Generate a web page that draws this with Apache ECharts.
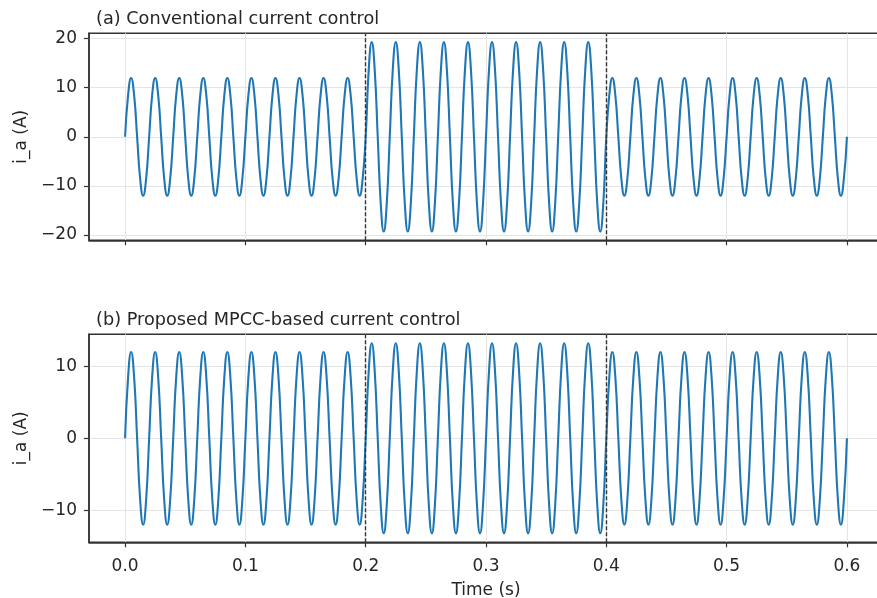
<!DOCTYPE html>
<html><head><meta charset="utf-8">
<script src="https://cdn.jsdelivr.net/npm/echarts@6/dist/echarts.min.js"></script>
<style>html,body{margin:0;padding:0;background:#fff}#c{width:877px;height:598px}</style>
</head><body><div id="c"></div>
<script>
// time samples (s): eight points per 20 ms cycle of the 50 Hz phase current
const time = [
  0, 0.0025, 0.005, 0.0075, 0.01, 0.0125, 0.015, 0.0175,
  0.02, 0.0225, 0.025, 0.0275, 0.03, 0.0325, 0.035, 0.0375,
  0.04, 0.0425, 0.045, 0.0475, 0.05, 0.0525, 0.055, 0.0575,
  0.06, 0.0625, 0.065, 0.0675, 0.07, 0.0725, 0.075, 0.0775,
  0.08, 0.0825, 0.085, 0.0875, 0.09, 0.0925, 0.095, 0.0975,
  0.1, 0.1025, 0.105, 0.1075, 0.11, 0.1125, 0.115, 0.1175,
  0.12, 0.1225, 0.125, 0.1275, 0.13, 0.1325, 0.135, 0.1375,
  0.14, 0.1425, 0.145, 0.1475, 0.15, 0.1525, 0.155, 0.1575,
  0.16, 0.1625, 0.165, 0.1675, 0.17, 0.1725, 0.175, 0.1775,
  0.18, 0.1825, 0.185, 0.1875, 0.19, 0.1925, 0.195, 0.1975,
  0.2, 0.2025, 0.205, 0.2075, 0.21, 0.2125, 0.215, 0.2175,
  0.22, 0.2225, 0.225, 0.2275, 0.23, 0.2325, 0.235, 0.2375,
  0.24, 0.2425, 0.245, 0.2475, 0.25, 0.2525, 0.255, 0.2575,
  0.26, 0.2625, 0.265, 0.2675, 0.27, 0.2725, 0.275, 0.2775,
  0.28, 0.2825, 0.285, 0.2875, 0.29, 0.2925, 0.295, 0.2975,
  0.3, 0.3025, 0.305, 0.3075, 0.31, 0.3125, 0.315, 0.3175,
  0.32, 0.3225, 0.325, 0.3275, 0.33, 0.3325, 0.335, 0.3375,
  0.34, 0.3425, 0.345, 0.3475, 0.35, 0.3525, 0.355, 0.3575,
  0.36, 0.3625, 0.365, 0.3675, 0.37, 0.3725, 0.375, 0.3775,
  0.38, 0.3825, 0.385, 0.3875, 0.39, 0.3925, 0.395, 0.3975,
  0.4, 0.4025, 0.405, 0.4075, 0.41, 0.4125, 0.415, 0.4175,
  0.42, 0.4225, 0.425, 0.4275, 0.43, 0.4325, 0.435, 0.4375,
  0.44, 0.4425, 0.445, 0.4475, 0.45, 0.4525, 0.455, 0.4575,
  0.46, 0.4625, 0.465, 0.4675, 0.47, 0.4725, 0.475, 0.4775,
  0.48, 0.4825, 0.485, 0.4875, 0.49, 0.4925, 0.495, 0.4975,
  0.5, 0.5025, 0.505, 0.5075, 0.51, 0.5125, 0.515, 0.5175,
  0.52, 0.5225, 0.525, 0.5275, 0.53, 0.5325, 0.535, 0.5375,
  0.54, 0.5425, 0.545, 0.5475, 0.55, 0.5525, 0.555, 0.5575,
  0.56, 0.5625, 0.565, 0.5675, 0.57, 0.5725, 0.575, 0.5775,
  0.58, 0.5825, 0.585, 0.5875, 0.59, 0.5925, 0.595, 0.5975,
  0.6
];
// (a) conventional current control, i_a (A)
const iaConventional = [
  0, 8.5, 12, 8.5, 0, -8.5, -12, -8.5,
  0, 8.5, 12, 8.5, 0, -8.5, -12, -8.5,
  0, 8.5, 12, 8.5, 0, -8.5, -12, -8.5,
  0, 8.5, 12, 8.5, 0, -8.5, -12, -8.5,
  0, 8.5, 12, 8.5, 0, -8.5, -12, -8.5,
  0, 8.5, 12, 8.5, 0, -8.5, -12, -8.5,
  0, 8.5, 12, 8.5, 0, -8.5, -12, -8.5,
  0, 8.5, 12, 8.5, 0, -8.5, -12, -8.5,
  0, 8.5, 12, 8.5, 0, -8.5, -12, -8.5,
  0, 8.5, 12, 8.5, 0, -8.5, -12, -8.5,
  0, 13.6, 19.3, 13.6, 0, -13.6, -19.3, -13.6,
  0, 13.6, 19.3, 13.6, 0, -13.6, -19.3, -13.6,
  0, 13.6, 19.3, 13.6, 0, -13.6, -19.3, -13.6,
  0, 13.6, 19.3, 13.6, 0, -13.6, -19.3, -13.6,
  0, 13.6, 19.3, 13.6, 0, -13.6, -19.3, -13.6,
  0, 13.6, 19.3, 13.6, 0, -13.6, -19.3, -13.6,
  0, 13.6, 19.3, 13.6, 0, -13.6, -19.3, -13.6,
  0, 13.6, 19.3, 13.6, 0, -13.6, -19.3, -13.6,
  0, 13.6, 19.3, 13.6, 0, -13.6, -19.3, -13.6,
  0, 13.6, 19.3, 13.6, 0, -13.6, -19.3, -13.6,
  0, 8.5, 12, 8.5, 0, -8.5, -12, -8.5,
  0, 8.5, 12, 8.5, 0, -8.5, -12, -8.5,
  0, 8.5, 12, 8.5, 0, -8.5, -12, -8.5,
  0, 8.5, 12, 8.5, 0, -8.5, -12, -8.5,
  0, 8.5, 12, 8.5, 0, -8.5, -12, -8.5,
  0, 8.5, 12, 8.5, 0, -8.5, -12, -8.5,
  0, 8.5, 12, 8.5, 0, -8.5, -12, -8.5,
  0, 8.5, 12, 8.5, 0, -8.5, -12, -8.5,
  0, 8.5, 12, 8.5, 0, -8.5, -12, -8.5,
  0, 8.5, 12, 8.5, 0, -8.5, -12, -8.5,
  0
];
// (b) proposed MPCC-based current control, i_a (A)
const iaProposed = [
  0, 8.5, 12, 8.5, 0, -8.5, -12, -8.5,
  0, 8.5, 12, 8.5, 0, -8.5, -12, -8.5,
  0, 8.5, 12, 8.5, 0, -8.5, -12, -8.5,
  0, 8.5, 12, 8.5, 0, -8.5, -12, -8.5,
  0, 8.5, 12, 8.5, 0, -8.5, -12, -8.5,
  0, 8.5, 12, 8.5, 0, -8.5, -12, -8.5,
  0, 8.5, 12, 8.5, 0, -8.5, -12, -8.5,
  0, 8.5, 12, 8.5, 0, -8.5, -12, -8.5,
  0, 8.5, 12, 8.5, 0, -8.5, -12, -8.5,
  0, 8.5, 12, 8.5, 0, -8.5, -12, -8.5,
  0, 9.3, 13.2, 9.3, 0, -9.3, -13.2, -9.3,
  0, 9.3, 13.2, 9.3, 0, -9.3, -13.2, -9.3,
  0, 9.3, 13.2, 9.3, 0, -9.3, -13.2, -9.3,
  0, 9.3, 13.2, 9.3, 0, -9.3, -13.2, -9.3,
  0, 9.3, 13.2, 9.3, 0, -9.3, -13.2, -9.3,
  0, 9.3, 13.2, 9.3, 0, -9.3, -13.2, -9.3,
  0, 9.3, 13.2, 9.3, 0, -9.3, -13.2, -9.3,
  0, 9.3, 13.2, 9.3, 0, -9.3, -13.2, -9.3,
  0, 9.3, 13.2, 9.3, 0, -9.3, -13.2, -9.3,
  0, 9.3, 13.2, 9.3, 0, -9.3, -13.2, -9.3,
  0, 8.5, 12, 8.5, 0, -8.5, -12, -8.5,
  0, 8.5, 12, 8.5, 0, -8.5, -12, -8.5,
  0, 8.5, 12, 8.5, 0, -8.5, -12, -8.5,
  0, 8.5, 12, 8.5, 0, -8.5, -12, -8.5,
  0, 8.5, 12, 8.5, 0, -8.5, -12, -8.5,
  0, 8.5, 12, 8.5, 0, -8.5, -12, -8.5,
  0, 8.5, 12, 8.5, 0, -8.5, -12, -8.5,
  0, 8.5, 12, 8.5, 0, -8.5, -12, -8.5,
  0, 8.5, 12, 8.5, 0, -8.5, -12, -8.5,
  0, 8.5, 12, 8.5, 0, -8.5, -12, -8.5,
  0
];
const xTicks = [0, 0.1, 0.2, 0.3, 0.4, 0.5, 0.6];
const yTicksA = [-20, -10, 0, 10, 20];
const yTicksB = [-10, 0, 10];
const stepTimes = [0.2, 0.4];
const titles = ['(a) Conventional current control', '(b) Proposed MPCC-based current control'];
const yName = 'i_a (A)';
const xName = 'Time (s)';

const FONT = 'DejaVu Sans';
const DARK = '#333333';
const TXT = '#262626';
const GRIDC = '#e5e5e5';
const BLUE = '#1f77b4';

function pairs(xs, ys) { return xs.map((x, i) => [x, ys[i]]); }
function fmtY(v) { return v < 0 ? '\u2212' + Math.abs(v) : String(v); }

const grids = [
  { left: 89, top: 33.3, width: 794, height: 207 },
  { left: 89, top: 334.3, width: 794, height: 208 }
];

function xAxisFor(gi, showLabels) {
  return {
    type: 'value', gridIndex: gi, min: -0.03, max: 0.63,
    axisLine: { show: true, onZero: false, lineStyle: { color: DARK, width: 1.5 } },
    axisTick: { show: true, length: 5, lineStyle: { color: DARK, width: 1.2 }, customValues: xTicks },
    axisLabel: { show: showLabels, customValues: xTicks, formatter: v => v.toFixed(1),
      fontFamily: FONT, fontSize: 17, color: TXT, margin: 15.5 },
    splitLine: { show: true, lineStyle: { color: GRIDC, width: 1 } },
    name: showLabels ? xName : '', nameLocation: 'middle', nameGap: 39.5,
    nameTextStyle: { fontFamily: FONT, fontSize: 17, color: TXT }
  };
}
function yAxisFor(gi, lim, ticks) {
  return {
    type: 'value', gridIndex: gi, min: -lim, max: lim,
    axisLine: { show: true, onZero: false, lineStyle: { color: DARK, width: 1.5 } },
    axisTick: { show: true, length: 5, lineStyle: { color: DARK, width: 1.2 }, customValues: ticks },
    axisLabel: { customValues: ticks, formatter: fmtY, fontFamily: FONT, fontSize: 17, color: TXT, margin: 12 },
    splitLine: { show: true, lineStyle: { color: GRIDC, width: 1 } },
    name: yName, nameLocation: 'middle', nameGap: 54, nameRotate: 90,
    nameTextStyle: { fontFamily: FONT, fontSize: 17, color: TXT }
  };
}
function seriesFor(gi, vals) {
  return {
    type: 'line', xAxisIndex: gi, yAxisIndex: gi, data: pairs(time, vals),
    showSymbol: false, smooth: 0.5, lineStyle: { color: BLUE, width: 2.1 }, z: 3,
    markLine: {
      silent: true, symbol: 'none', label: { show: false },
      lineStyle: { color: DARK, type: [4, 2], width: 1.4 },
      data: stepTimes.map(t => ({ xAxis: t }))
    }
  };
}

const chart = echarts.init(document.getElementById('c'), null, { renderer: 'canvas' });
chart.setOption({
  animation: false,
  backgroundColor: '#ffffff',
  title: [
    { text: titles[0], left: 91, top: 5, textStyle: { fontFamily: FONT, fontSize: 17.7, fontWeight: 'normal', color: TXT } },
    { text: titles[1], left: 91, top: 306, textStyle: { fontFamily: FONT, fontSize: 17.7, fontWeight: 'normal', color: TXT } }
  ],
  grid: grids.map(g => Object.assign({ show: true, borderColor: DARK, borderWidth: 1.5, backgroundColor: 'transparent',
    containLabel: false, outerBoundsMode: 'none' }, g)),
  xAxis: [xAxisFor(0, false), xAxisFor(1, true)],
  yAxis: [yAxisFor(0, 21.1, yTicksA), yAxisFor(1, 14.45, yTicksB)],
  series: [seriesFor(0, iaConventional), seriesFor(1, iaProposed)]
});
</script></body></html>
